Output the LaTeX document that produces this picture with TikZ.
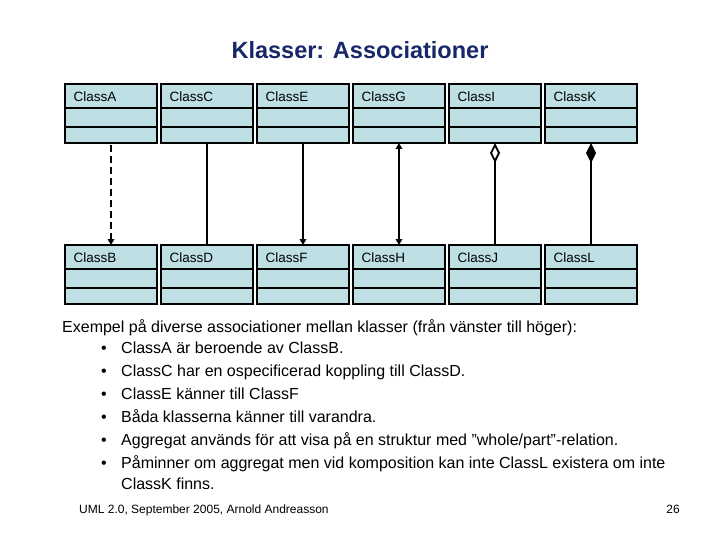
\documentclass[tikz,border=0pt]{standalone}
\usepackage{fontspec}
\setmainfont{Liberation Sans}
\usetikzlibrary{arrows.meta}
\definecolor{boxfill}{RGB}{190,224,228}
\definecolor{titleblue}{RGB}{22,40,105}
\tikzset{
  cls/.style={draw=black, line width=2.6pt, fill=boxfill, minimum width=92pt, minimum height=59pt, inner sep=0pt, outer sep=0pt},
  divider/.style={draw=black, line width=2.6pt},
  clsname/.style={anchor=west, inner sep=0pt, font=\fontsize{13.5}{15}\selectfont},
  conn/.style={draw=black, line width=1.8pt},
  tip/.style={-{Triangle[length=6pt,width=6.5pt]}},
  bodytext/.style={anchor=base west, inner sep=0pt, font=\fontsize{16}{18}\selectfont},
}
\newcommand\umlclass[4]{% name, center x, top y, text
  \node[cls, anchor=north] (#1) at (#2,#3) {};
  \draw[divider] ([yshift=-24pt]#1.north west) -- ([yshift=-24pt]#1.north east);
  \draw[divider] ([yshift=-43pt]#1.north west) -- ([yshift=-43pt]#1.north east);
  \node[clsname] (#1lbl) at ([xshift=8.5pt,yshift=-12.5pt]#1.north west) {#4};
}
\begin{document}
\begin{tikzpicture}[x=1pt,y=-1pt]
\useasboundingbox[fill=white] (0,0) rectangle (720,540);
\node[font=\bfseries\fontsize{23.5}{26}\selectfont, text=titleblue, inner sep=0pt] (title) at (360,50) {Klasser: Associationer};

\umlclass{A}{111}{84}{ClassA}
\umlclass{C}{207}{84}{ClassC}
\umlclass{E}{303}{84}{ClassE}
\umlclass{G}{399}{84}{ClassG}
\umlclass{I}{495}{84}{ClassI}
\umlclass{K}{591}{84}{ClassK}
\umlclass{B}{111}{245}{ClassB}
\umlclass{D}{207}{245}{ClassD}
\umlclass{F}{303}{245}{ClassF}
\umlclass{H}{399}{245}{ClassH}
\umlclass{J}{495}{245}{ClassJ}
\umlclass{L}{591}{245}{ClassL}

\draw[conn, tip, dashed, dash pattern=on 7pt off 4pt, shorten <=2pt] (A.south) -- (B.north);
\draw[conn, shorten <=1pt] (C.south) -- (D.north);
\draw[conn, tip, shorten <=1pt] (E.south) -- (F.north);
\draw[conn, {Triangle[length=6pt,width=6.5pt]}-{Triangle[length=6pt,width=6.5pt]}] (G.south) -- (H.north);
\draw[conn, {Diamond[open, length=20pt, width=10pt, fill=white]}-] (I.south) -- (J.north);
\draw[conn, {Diamond[length=20pt, width=10pt]}-] (K.south) -- (L.north);

\node[bodytext] (intro) at (62,332) {Exempel på diverse associationer mellan klasser (från vänster till höger):};
\foreach \yy/\txt [count=\i] in {
  353/{ClassA är beroende av ClassB.},
  376/{ClassC har en ospecificerad koppling till ClassD.},
  399/{ClassE känner till ClassF},
  422/{Båda klasserna känner till varandra.},
  445/{Aggregat används för att visa på en struktur med "whole/part"-relation.},
  468/{Påminner om aggregat men vid komposition kan inte ClassL existera om inte}}{
  \node[bodytext] (bul\i) at (101,\yy) {•};
  \node[bodytext] (item\i) at (121,\yy) {\txt};
}
\node[bodytext] (item6b) at (121,489) {ClassK finns.};

\node[anchor=base west, inner sep=0pt, font=\fontsize{12}{14}\selectfont] (foot) at (79,513) {UML 2.0, September 2005, Arnold Andreasson};
\node[anchor=base east, inner sep=0pt, font=\fontsize{12}{14}\selectfont] (page) at (680,513) {26};
\end{tikzpicture}
\end{document}
